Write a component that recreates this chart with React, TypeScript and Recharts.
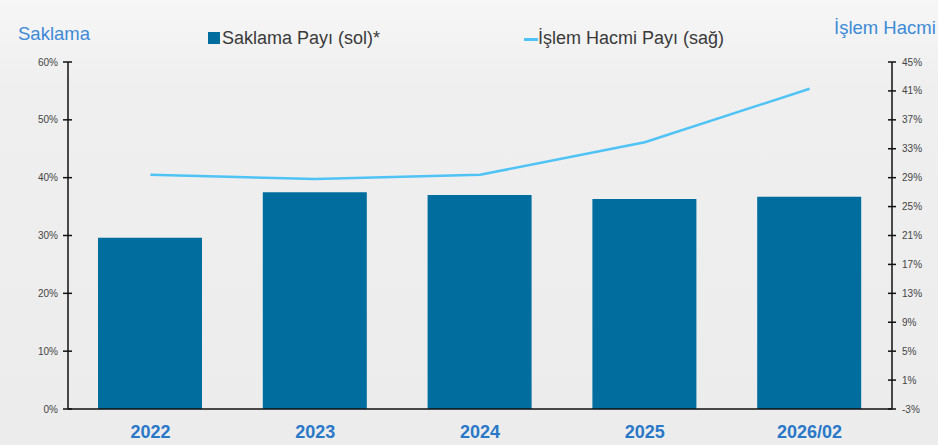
import React from "react";
import {
  Bar,
  ComposedChart,
  Line,
  XAxis,
  YAxis,
} from "recharts";

const years = ["2022", "2023", "2024", "2025", "2026/02"];
const saklamaPayi = [29.6, 37.5, 37.0, 36.3, 36.7];
const islemHacmiPayi = [29.4, 28.8, 29.4, 33.9, 41.3];
const leftTicks = [0, 10, 20, 30, 40, 50, 60];
const rightTicks = [-3, 1, 5, 9, 13, 17, 21, 25, 29, 33, 37, 41, 45];

const data = years.map((year, i) => ({
  year,
  saklama: saklamaPayi[i],
  islem: islemHacmiPayi[i],
}));

const BAR_COLOR = "#006d9f";
const LINE_COLOR = "#4fc3f5";
const FONT = "Liberation Sans, Arial, sans-serif";

// ticks cross the axis line, so draw them ourselves
function LeftTick(props: any) {
  const { x, y, payload } = props;
  return (
    <g>
      <line x1={x - 5} x2={x + 4} y1={y} y2={y} stroke="#111" strokeWidth={1.5} />
      <text x={x - 10} y={y} dy="0.35em" textAnchor="end" fontSize={10} fill="#444" fontFamily={FONT}>
        {payload.value}%
      </text>
    </g>
  );
}

function RightTick(props: any) {
  const { x, y, payload } = props;
  return (
    <g>
      <line x1={x - 4} x2={x + 4} y1={y} y2={y} stroke="#111" strokeWidth={1.5} />
      <text x={x + 10} y={y} dy="0.35em" textAnchor="start" fontSize={10} fill="#444" fontFamily={FONT}>
        {payload.value}%
      </text>
    </g>
  );
}

const legendText: React.CSSProperties = {
  position: "absolute",
  fontFamily: FONT,
  fontSize: 18,
  color: "#3a3a3a",
  whiteSpace: "nowrap",
};

const header: React.CSSProperties = {
  position: "absolute",
  fontFamily: FONT,
  fontSize: 18.5,
  color: "#3d8ad8",
  whiteSpace: "nowrap",
};

export default function App() {
  return (
    <div
      style={{
        position: "absolute",
        left: 0,
        top: 0,
        width: 938,
        height: 445,
        background: "linear-gradient(180deg, #f6f6f6 0%, #efefef 20%, #ececec 100%)",
        overflow: "hidden",
      }}
    >
      <div style={{ ...header, left: 18, top: 23 }}>Saklama</div>
      <div style={{ ...header, left: 834, top: 17 }}>İşlem Hacmi</div>
      <div style={{ ...legendText, left: 208, top: 28 }}>
        <span style={{ display: "inline-block", width: 12, height: 12, background: BAR_COLOR, marginRight: 2 }} />
        Saklama Payı (sol)*
      </div>
      <div style={{ ...legendText, left: 524, top: 28 }}>
        <span
          style={{
            display: "inline-block",
            width: 14,
            height: 3,
            background: LINE_COLOR,
            verticalAlign: "middle",
            marginRight: 0,
          }}
        />
        İşlem Hacmi Payı (sağ)
      </div>
      <ComposedChart
        width={938}
        height={445}
        data={data}
        margin={{ top: 62, right: 0, bottom: 0, left: 0 }}
        barCategoryGap={0}
        style={{ position: "absolute", left: 0, top: 0 }}
      >
        <XAxis
          dataKey="year"
          height={36}
          axisLine={{ stroke: "#111", strokeWidth: 1.5 }}
          tickLine={false}
          tickSize={0}
          tickMargin={16}
          tick={{ fontSize: 18, fontWeight: 700, fill: "#2a78c8", fontFamily: FONT }}
        />
        <YAxis
          yAxisId="left"
          orientation="left"
          width={68}
          domain={[0, 60]}
          ticks={leftTicks}
          interval={0}
          axisLine={{ stroke: "#111", strokeWidth: 1.5 }}
          tickLine={false}
          tickSize={0}
          tickMargin={0}
          tick={<LeftTick />}
        />
        <YAxis
          yAxisId="right"
          orientation="right"
          width={46}
          domain={[-3, 45]}
          ticks={rightTicks}
          interval={0}
          axisLine={{ stroke: "#111", strokeWidth: 1.5 }}
          tickLine={false}
          tickSize={0}
          tickMargin={0}
          tick={<RightTick />}
        />
        <Bar yAxisId="left" dataKey="saklama" fill={BAR_COLOR} barSize={104} isAnimationActive={false} />
        <Line
          yAxisId="right"
          type="linear"
          dataKey="islem"
          stroke={LINE_COLOR}
          strokeWidth={2.5}
          dot={false}
          activeDot={false}
          isAnimationActive={false}
        />
      </ComposedChart>
    </div>
  );
}
